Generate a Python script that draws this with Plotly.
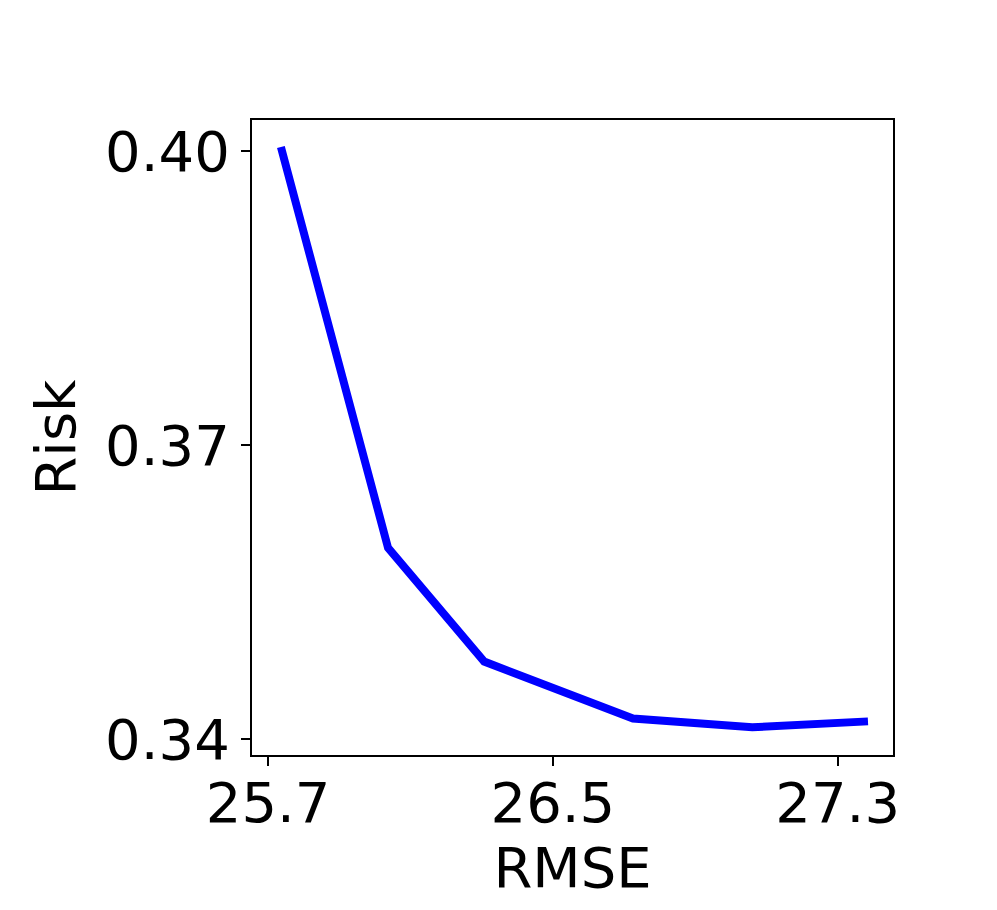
import plotly.graph_objects as go

rmse = [25.736, 26.037, 26.307, 26.725, 27.060, 27.222, 27.385]
risk = [0.4004, 0.3595, 0.3479, 0.3421, 0.3412, 0.3416, 0.3418]
x_ticks = [25.7, 26.5, 27.3]
y_ticks = [0.34, 0.37, 0.40]
y_tick_labels = ["0.34", "0.37", "0.40"]

fig = go.Figure()
fig.add_trace(go.Scatter(x=rmse, y=risk, mode="lines",
                         line=dict(color="#0000ff", width=8), showlegend=False))

font = dict(family="DejaVu Sans", size=56, color="black")
fig.update_layout(
    width=989, height=902,
    margin=dict(l=244, r=104, t=112, b=155),
    paper_bgcolor="white", plot_bgcolor="white",
    font=font,
)
fig.update_xaxes(
    range=[25.6548, 27.4553], tickvals=x_ticks, ticktext=[str(v) for v in x_ticks],
    showgrid=False, zeroline=False, showline=True, mirror=True,
    linecolor="black", linewidth=2, ticks="outside", ticklen=9, tickwidth=2,
    tickcolor="black", tickfont=font, ticklabelstandoff=-11,
    title=dict(text="RMSE", font=font, standoff=2),
)
fig.update_yaxes(
    range=[0.33837, 0.40316], tickvals=y_ticks, ticktext=y_tick_labels,
    showgrid=False, zeroline=False, showline=True, mirror=True,
    linecolor="black", linewidth=2, ticks="outside", ticklen=9, tickwidth=2,
    tickcolor="black", tickfont=font,
    title=dict(text="Risk", font=font, standoff=12),
)
fig.write_html("out.html")
